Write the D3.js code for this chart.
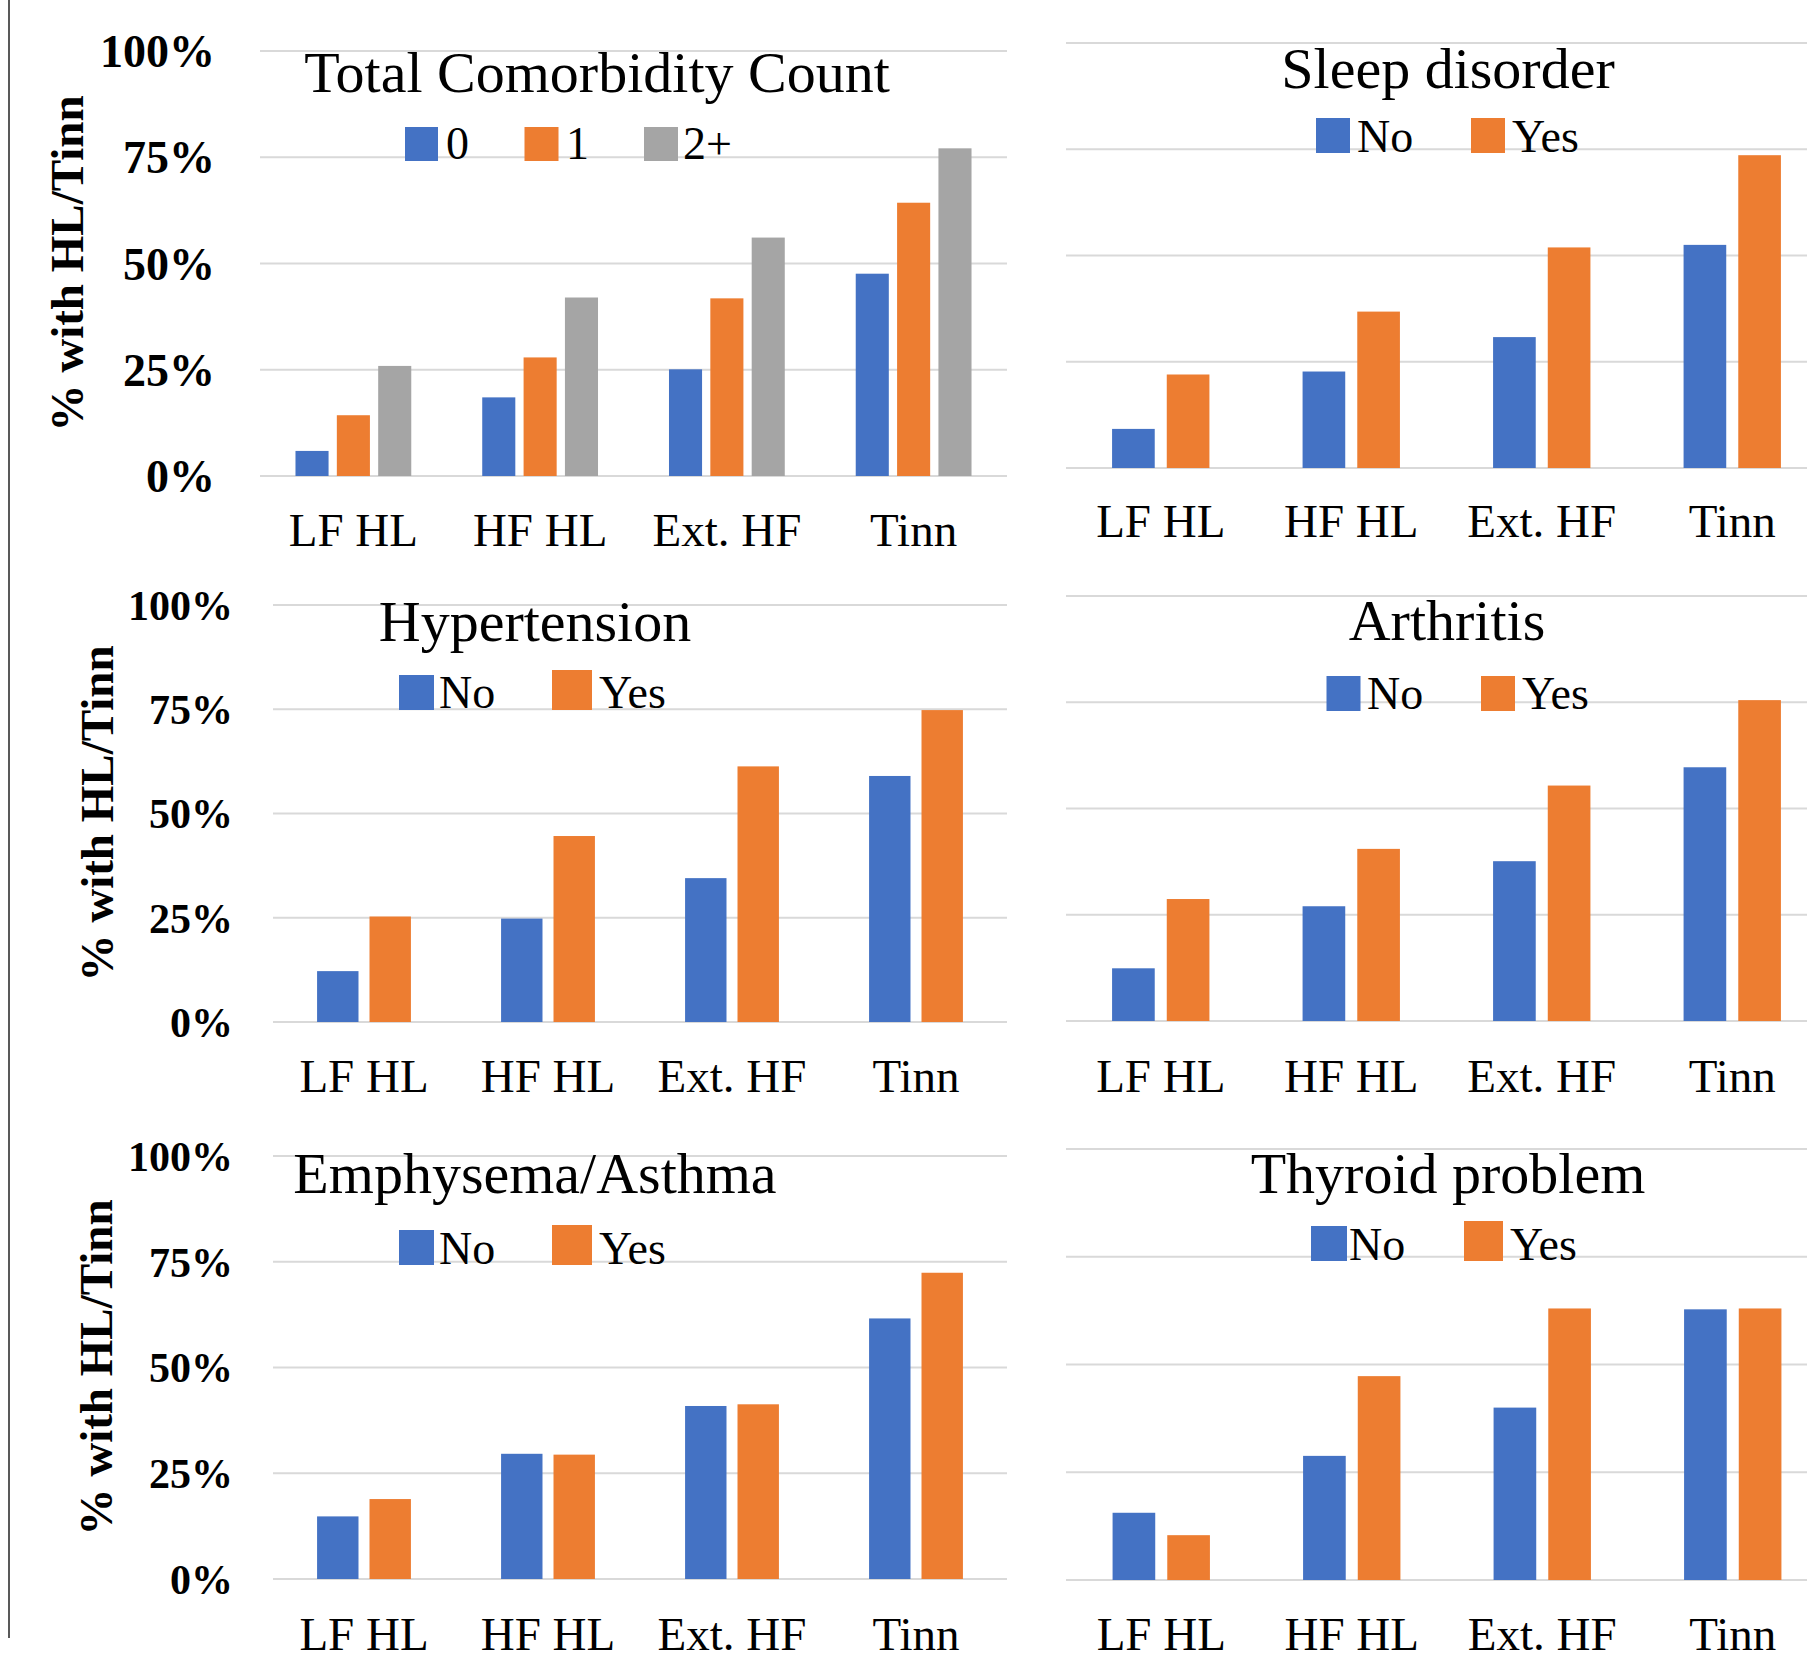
<!DOCTYPE html>
<html>
<head>
<meta charset="utf-8">
<script src="https://cdn.jsdelivr.net/npm/d3@7"></script>
<style>
  body { margin: 0; background: #fff; }
  svg { display: block; font-family: "Liberation Serif", "Times New Roman", serif; }
</style>
</head>
<body>
<svg id="chart" width="1807" height="1658"></svg>
<script>
// --- DATA (percent with HL / tinnitus) ---
const categories = ["LF HL", "HF HL", "Ext. HF", "Tinn"];
const yTicks = [0, 25, 50, 75, 100];
const countKeys = ["0", "1", "2+"];
const yesNoKeys = ["No", "Yes"];

const count0 = [5.9, 18.5, 25.1, 47.6];
const count1 = [14.3, 27.9, 41.8, 64.3];
const count2plus = [25.9, 42.0, 56.1, 77.1];

const sleepNo = [9.2, 22.7, 30.8, 52.5];
const sleepYes = [22.0, 36.8, 51.9, 73.6];

const hyperNo = [12.2, 24.8, 34.5, 59.0];
const hyperYes = [25.3, 44.6, 61.3, 74.8];

const arthNo = [12.4, 27.0, 37.6, 59.7];
const arthYes = [28.7, 40.5, 55.4, 75.5];

const emphNo = [14.8, 29.6, 40.9, 61.6];
const emphYes = [18.9, 29.4, 41.3, 72.4];

const thyNo = [15.6, 28.8, 40.0, 62.8];
const thyYes = [10.4, 47.3, 63.0, 63.0];

const colors = { "0": "#4472C4", "1": "#ED7D31", "2+": "#A5A5A5", "No": "#4472C4", "Yes": "#ED7D31" };

// --- PANEL LAYOUT ---
const panels = [
  { title: "Total Comorbidity Count", keys: countKeys, series: [count0, count1, count2plus],
    x: [260, 1007], grid: [260, 1007], y: [476, 51], padG: 0.38, padB: 0.2,
    ticks: { size: 46, right: 215 }, yTitle: 83, titleX: 597, titleY: 92, labelY: 546,
    legend: { x: [405, 524.5, 644], y: [127, 127, 127], w: [33, 34, 34], h: [34, 34, 34], tx: [446, 566, 683], base: 159 } },
  { title: "Sleep disorder", keys: yesNoKeys, series: [sleepNo, sleepYes],
    x: [1065.5, 1827.5], grid: [1066, 1807], y: [468, 43], padG: 0.489, padB: 0.22,
    ticks: null, titleX: 1448, titleY: 88, labelY: 537,
    legend: { x: [1316, 1471], y: [118, 118], w: [34, 34], h: [35, 35], tx: [1357, 1512], base: 152 } },
  { title: "Hypertension", keys: yesNoKeys, series: [hyperNo, hyperYes],
    x: [272, 1008], grid: [273, 1007], y: [1022, 605], padG: 0.49, padB: 0.21,
    ticks: { size: 42, right: 233 }, yTitle: 113, titleX: 535, titleY: 641, labelY: 1092,
    legend: { x: [399, 552], y: [675, 670], w: [35, 40], h: [35, 40], tx: [439, 599], base: 708 } },
  { title: "Arthritis", keys: yesNoKeys, series: [arthNo, arthYes],
    x: [1065.5, 1827.5], grid: [1066, 1807], y: [1021, 596], padG: 0.489, padB: 0.22,
    ticks: null, titleX: 1447, titleY: 640, labelY: 1092,
    legend: { x: [1326.5, 1481], y: [676, 676], w: [34, 34], h: [35, 35], tx: [1367, 1522], base: 709 } },
  { title: "Emphysema/Asthma", keys: yesNoKeys, series: [emphNo, emphYes],
    x: [272, 1008], grid: [273, 1007], y: [1579, 1156], padG: 0.49, padB: 0.21,
    ticks: { size: 42, right: 233 }, yTitle: 112, titleX: 535, titleY: 1193, labelY: 1650,
    legend: { x: [399, 552], y: [1230, 1225], w: [35, 40], h: [35, 40], tx: [439, 599], base: 1264 } },
  { title: "Thyroid problem", keys: yesNoKeys, series: [thyNo, thyYes],
    x: [1066, 1828], grid: [1066, 1807], y: [1580, 1149], padG: 0.489, padB: 0.22,
    ticks: null, titleX: 1448, titleY: 1193, labelY: 1650,
    legend: { x: [1311, 1464], y: [1226, 1221], w: [36, 39], h: [35, 40], tx: [1349, 1510], base: 1260 } }
];

const svg = d3.select("#chart");

// thin frame line on the left edge
svg.append("line")
  .attr("x1", 9).attr("x2", 9).attr("y1", 0).attr("y2", 1638)
  .attr("stroke", "#595959").attr("stroke-width", 2);

function drawPanel(p) {
  const g = svg.append("g");

  // --- SCALES ---
  const x0 = d3.scaleBand()
    .domain(categories)
    .range(p.x)
    .paddingInner(p.padG)
    .paddingOuter(p.padG / 2);

  const x1 = d3.scaleBand()
    .domain(p.keys)
    .range([0, x0.bandwidth()])
    .paddingInner(p.padB);

  const y = d3.scaleLinear().domain([0, 100]).range(p.y);

  // --- GRIDLINES ---
  g.append("g")
    .selectAll("line")
    .data(yTicks)
    .join("line")
    .attr("x1", p.grid[0]).attr("x2", p.grid[1])
    .attr("y1", d => y(d)).attr("y2", d => y(d))
    .attr("stroke", "#D9D9D9").attr("stroke-width", 2);

  // --- BARS ---
  const rows = categories.map((c, i) => ({ cat: c, values: p.keys.map((k, j) => ({ key: k, value: p.series[j][i] })) }));

  g.append("g")
    .selectAll("g")
    .data(rows)
    .join("g")
    .attr("transform", d => `translate(${x0(d.cat)},0)`)
    .selectAll("rect")
    .data(d => d.values)
    .join("rect")
    .attr("x", d => x1(d.key))
    .attr("y", d => y(d.value))
    .attr("width", x1.bandwidth())
    .attr("height", d => y(0) - y(d.value))
    .attr("fill", d => colors[d.key]);

  // --- AXES ---
  const xAxis = g.append("g")
    .attr("transform", `translate(0,${p.labelY})`)
    .call(d3.axisBottom(x0).tickSize(0));
  xAxis.select(".domain").remove();
  xAxis.selectAll("text")
    .attr("y", 0).attr("dy", 0)
    .attr("fill", "#000")
    .style("font-family", "Liberation Serif")
    .style("font-size", "47px");

  if (p.ticks) {
    const yAxis = g.append("g")
      .attr("transform", `translate(${p.ticks.right},0)`)
      .call(d3.axisLeft(y).tickValues(yTicks).tickSize(0).tickPadding(0).tickFormat(d => d + "%"));
    yAxis.select(".domain").remove();
    yAxis.selectAll("text")
      .attr("x", 0).attr("dy", "0.34em")
      .attr("fill", "#000")
      .style("font-family", "Liberation Serif")
      .style("font-weight", "bold")
      .style("font-size", p.ticks.size + "px");

    g.append("text")
      .attr("transform", `translate(${p.yTitle},${(p.y[0] + p.y[1]) / 2}) rotate(-90)`)
      .attr("text-anchor", "middle")
      .style("font-weight", "bold")
      .style("font-size", "47px")
      .text("% with HL/Tinn");
  }

  // --- TITLE ---
  g.append("text")
    .attr("x", p.titleX).attr("y", p.titleY)
    .attr("text-anchor", "middle")
    .style("font-size", "58px")
    .text(p.title);

  // --- LEGEND ---
  const lg = p.legend;
  const items = g.append("g")
    .selectAll("g")
    .data(p.keys)
    .join("g");
  items.append("rect")
    .attr("x", (d, i) => lg.x[i]).attr("y", (d, i) => lg.y[i])
    .attr("width", (d, i) => lg.w[i]).attr("height", (d, i) => lg.h[i])
    .attr("fill", d => colors[d]);
  items.append("text")
    .attr("x", (d, i) => lg.tx[i]).attr("y", lg.base)
    .style("font-size", "46px")
    .text(d => d);
}

panels.forEach(drawPanel);
</script>
</body>
</html>
